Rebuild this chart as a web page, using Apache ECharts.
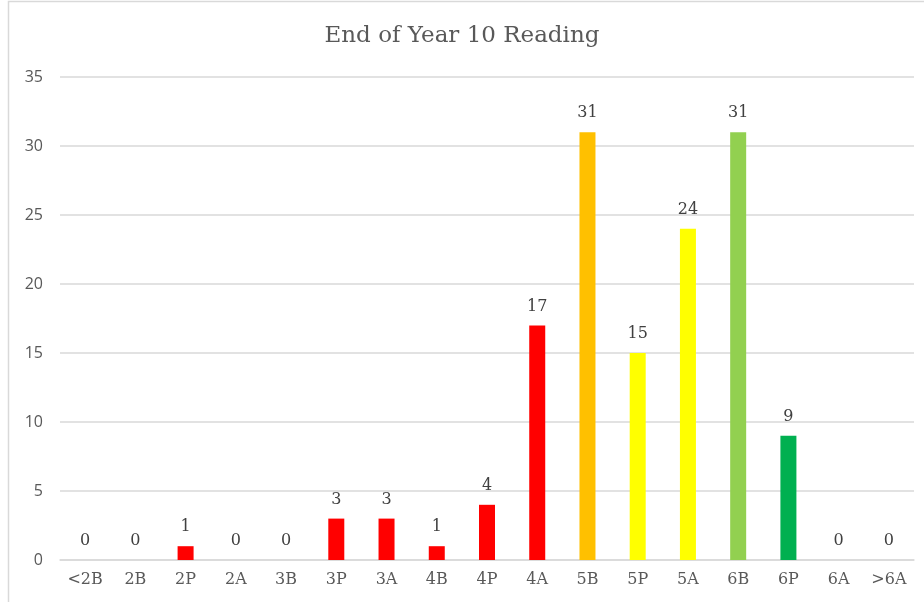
<!DOCTYPE html>
<html>
<head>
<meta charset="utf-8">
<script src="https://cdn.jsdelivr.net/npm/echarts@6/dist/echarts.min.js"></script>
<style>
  html, body { margin: 0; padding: 0; background: #fff; }
  #chart { width: 924px; height: 602px; }
</style>
</head>
<body>
<div id="chart"></div>
<script>
// levels and counts
var levels = ['<2B','2B','2P','2A','3B','3P','3A','4B','4P','4A','5B','5P','5A','6B','6P','6A','>6A'];
var counts = [0, 0, 1, 0, 0, 3, 3, 1, 4, 17, 31, 15, 24, 31, 9, 0, 0];
var barColors = ['#FF0000','#FF0000','#FF0000','#FF0000','#FF0000','#FF0000','#FF0000','#FF0000','#FF0000','#FF0000',
                 '#FFC000','#FFFF00','#FFFF00','#92D050','#00B050','#00B050','#00B050'];
var yTicks = [0, 5, 10, 15, 20, 25, 30, 35];

var serif = '"DejaVu Serif", "Liberation Serif", serif';

var chart = echarts.init(document.getElementById('chart'));
var option = {
    animation: false,
    backgroundColor: '#fff',
    title: {
        text: 'End of Year 10 Reading',
        left: 'center',
        top: 20,
        textStyle: { fontFamily: serif, fontSize: 23, fontWeight: 'normal', color: '#595959' }
    },
    graphic: [{
        type: 'rect',
        shape: { x: 8.5, y: 1.5, width: 930, height: 620 },
        style: { fill: 'none', stroke: '#d9d9d9', lineWidth: 1.5 },
        silent: true
    }],
    grid: { left: 60, right: 10, top: 77, bottom: 42 },
    xAxis: {
        type: 'category',
        data: levels,
        axisLine: { lineStyle: { color: '#d9d9d9', width: 1.5 } },
        axisTick: { show: false },
        axisLabel: { fontFamily: serif, fontSize: 16, color: '#595959', margin: 12 }
    },
    yAxis: {
        type: 'value',
        min: yTicks[0],
        max: yTicks[yTicks.length - 1],
        interval: 5,
        axisLine: { show: false },
        axisTick: { show: false },
        splitLine: { lineStyle: { color: '#d9d9d9', width: 1.5 } },
        axisLabel: { fontFamily: '"Open Sans", "Liberation Sans", sans-serif', fontSize: 16, color: '#595959', margin: 17 }
    },
    series: [{
        type: 'bar',
        barWidth: 16,
        data: counts.map(function (v, i) {
            return { value: v, itemStyle: { color: barColors[i] } };
        }),
        label: {
            show: true,
            position: 'top',
            distance: 11,
            fontFamily: serif,
            fontSize: 16,
            color: '#404040'
        }
    }]
};
chart.setOption(option);
</script>
</body>
</html>
